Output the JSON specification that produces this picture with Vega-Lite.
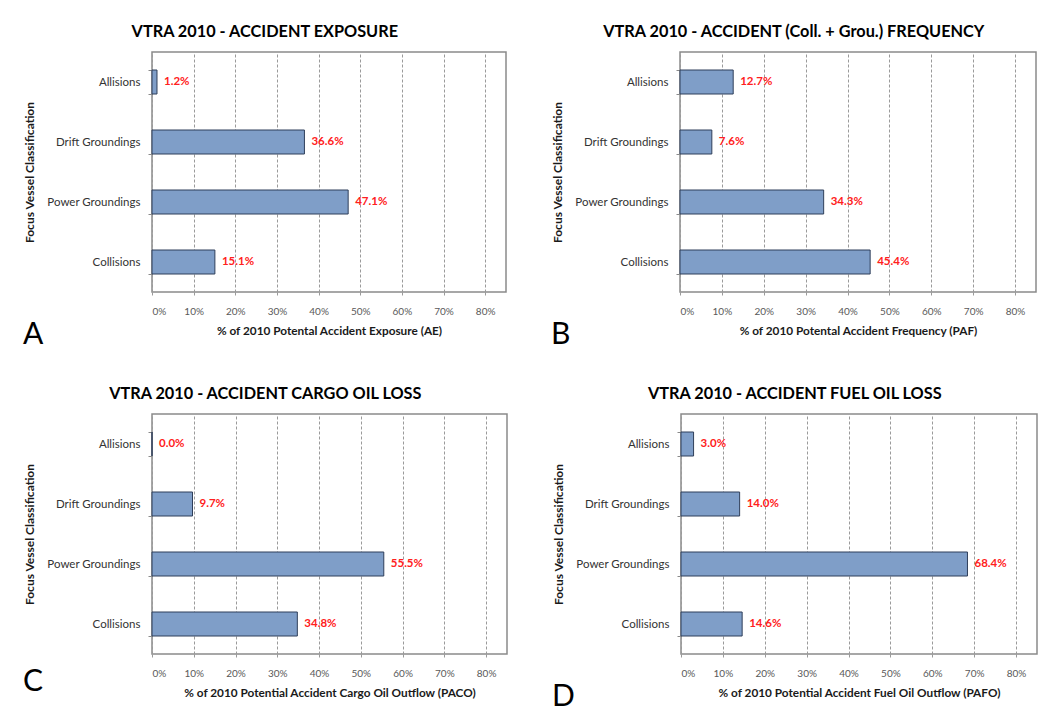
{
  "$schema": "https://vega.github.io/schema/vega-lite/v6.json",
  "padding": {"left": 22, "top": 22, "right": 0, "bottom": 0},
  "background": "white",
  "spacing": 34,
  "data": {"values": [
    {"panel": "A", "category": "Allisions", "value": 0.012},
    {"panel": "A", "category": "Drift Groundings", "value": 0.366},
    {"panel": "A", "category": "Power Groundings", "value": 0.471},
    {"panel": "A", "category": "Collisions", "value": 0.151},
    {"panel": "B", "category": "Allisions", "value": 0.127},
    {"panel": "B", "category": "Drift Groundings", "value": 0.076},
    {"panel": "B", "category": "Power Groundings", "value": 0.343},
    {"panel": "B", "category": "Collisions", "value": 0.454},
    {"panel": "C", "category": "Allisions", "value": 0.0},
    {"panel": "C", "category": "Drift Groundings", "value": 0.097},
    {"panel": "C", "category": "Power Groundings", "value": 0.555},
    {"panel": "C", "category": "Collisions", "value": 0.348},
    {"panel": "D", "category": "Allisions", "value": 0.030},
    {"panel": "D", "category": "Drift Groundings", "value": 0.140},
    {"panel": "D", "category": "Power Groundings", "value": 0.684},
    {"panel": "D", "category": "Collisions", "value": 0.146}
  ]},
  "config": {
    "font": "Lato",
    "view": {"stroke": "#8a8a8a", "strokeWidth": 1.5},
    "title": {"font": "Lato", "fontSize": 16.3, "fontWeight": "bold", "color": "#000000", "anchor": "middle", "offset": 6, "frame": "bounds"},
    "axisX": {
      "format": ".0%", "values": [0, 0.1, 0.2, 0.3, 0.4, 0.5, 0.6, 0.7, 0.8],
      "grid": true, "gridColor": "#9a9a9a", "gridDash": [3, 2], "gridWidth": 1,
      "tickColor": "#9a9a9a", "tickDash": [3, 2], "tickSize": 4,
      "domain": false, "labelFontSize": 10, "labelColor": "#595959", "labelPadding": 10,
      "titleFontSize": 11.8, "titleFontWeight": "bold", "titleColor": "#1a1a1a", "titlePadding": 9
    },
    "axisY": {
      "domain": false, "grid": false, "tickBand": "extent", "tickColor": "#8a8a8a", "tickSize": 4,
      "labelFontSize": 11.5, "labelColor": "#333333", "labelPadding": 8,
      "titleFontSize": 12, "titleFontWeight": "bold", "titleColor": "#1a1a1a", "titlePadding": 10
    }
  },
  "vconcat": [
    {"spacing": 43, "hconcat": [
      {
        "title": {"text": "A", "orient": "bottom", "anchor": "start", "fontSize": 30, "fontWeight": "normal", "offset": -18, "frame": "bounds"},
        "vconcat": [{
          "width": 354, "height": 240,
          "title": {"text": "VTRA 2010 - ACCIDENT EXPOSURE"},
          "transform": [{"filter": "datum.panel == 'A'"}],
          "encoding": {
            "y": {"field": "category", "type": "nominal", "sort": ["Allisions", "Drift Groundings", "Power Groundings", "Collisions"], "scale": {"paddingInner": 0.6, "paddingOuter": 0.3}, "title": "Focus Vessel Classification"},
            "x": {"field": "value", "type": "quantitative", "scale": {"domain": [0, 0.85], "nice": false}, "title": "% of 2010 Potental Accident Exposure (AE)"}
          },
          "layer": [
            {"mark": {"type": "bar", "fill": "#7f9ec8", "stroke": "#2f3f5a", "strokeWidth": 1}},
            {"mark": {"type": "text", "align": "left", "baseline": "middle", "dx": 7, "color": "#ff2020", "fontWeight": "bold", "fontSize": 11.5}, "encoding": {"text": {"field": "value", "type": "quantitative", "format": ".1%"}}}
          ]
        }]
      },
      {
        "title": {"text": "B", "orient": "bottom", "anchor": "start", "fontSize": 30, "fontWeight": "normal", "offset": -18, "frame": "bounds"},
        "vconcat": [{
          "width": 356, "height": 240,
          "title": {"text": "VTRA 2010 - ACCIDENT (Coll. + Grou.) FREQUENCY"},
          "transform": [{"filter": "datum.panel == 'B'"}],
          "encoding": {
            "y": {"field": "category", "type": "nominal", "sort": ["Allisions", "Drift Groundings", "Power Groundings", "Collisions"], "scale": {"paddingInner": 0.6, "paddingOuter": 0.3}, "title": "Focus Vessel Classification"},
            "x": {"field": "value", "type": "quantitative", "scale": {"domain": [0, 0.85], "nice": false}, "title": "% of 2010 Potental Accident Frequency (PAF)"}
          },
          "layer": [
            {"mark": {"type": "bar", "fill": "#7f9ec8", "stroke": "#2f3f5a", "strokeWidth": 1}},
            {"mark": {"type": "text", "align": "left", "baseline": "middle", "dx": 7, "color": "#ff2020", "fontWeight": "bold", "fontSize": 11.5}, "encoding": {"text": {"field": "value", "type": "quantitative", "format": ".1%"}}}
          ]
        }]
      }
    ]},
    {"spacing": 43, "hconcat": [
      {
        "title": {"text": "C", "orient": "bottom", "anchor": "start", "fontSize": 30, "fontWeight": "normal", "offset": -33, "frame": "bounds"},
        "vconcat": [{
          "width": 355, "height": 240,
          "title": {"text": "VTRA 2010 - ACCIDENT CARGO OIL LOSS"},
          "transform": [{"filter": "datum.panel == 'C'"}],
          "encoding": {
            "y": {"field": "category", "type": "nominal", "sort": ["Allisions", "Drift Groundings", "Power Groundings", "Collisions"], "scale": {"paddingInner": 0.6, "paddingOuter": 0.3}, "title": "Focus Vessel Classification"},
            "x": {"field": "value", "type": "quantitative", "scale": {"domain": [0, 0.85], "nice": false}, "title": "% of 2010 Potential Accident Cargo Oil Outflow (PACO)"}
          },
          "layer": [
            {"mark": {"type": "bar", "fill": "#7f9ec8", "stroke": "#2f3f5a", "strokeWidth": 1}},
            {"mark": {"type": "text", "align": "left", "baseline": "middle", "dx": 7, "color": "#ff2020", "fontWeight": "bold", "fontSize": 11.5}, "encoding": {"text": {"field": "value", "type": "quantitative", "format": ".1%"}}}
          ]
        }]
      },
      {
        "title": {"text": "D", "orient": "bottom", "anchor": "start", "fontSize": 30, "fontWeight": "normal", "offset": -18, "frame": "bounds"},
        "vconcat": [{
          "width": 356, "height": 240,
          "title": {"text": "VTRA 2010 - ACCIDENT FUEL OIL LOSS"},
          "transform": [{"filter": "datum.panel == 'D'"}],
          "encoding": {
            "y": {"field": "category", "type": "nominal", "sort": ["Allisions", "Drift Groundings", "Power Groundings", "Collisions"], "scale": {"paddingInner": 0.6, "paddingOuter": 0.3}, "title": "Focus Vessel Classification"},
            "x": {"field": "value", "type": "quantitative", "scale": {"domain": [0, 0.85], "nice": false}, "title": "% of 2010 Potential Accident Fuel Oil Outflow (PAFO)"}
          },
          "layer": [
            {"mark": {"type": "bar", "fill": "#7f9ec8", "stroke": "#2f3f5a", "strokeWidth": 1}},
            {"mark": {"type": "text", "align": "left", "baseline": "middle", "dx": 7, "color": "#ff2020", "fontWeight": "bold", "fontSize": 11.5}, "encoding": {"text": {"field": "value", "type": "quantitative", "format": ".1%"}}}
          ]
        }]
      }
    ]}
  ]
}
